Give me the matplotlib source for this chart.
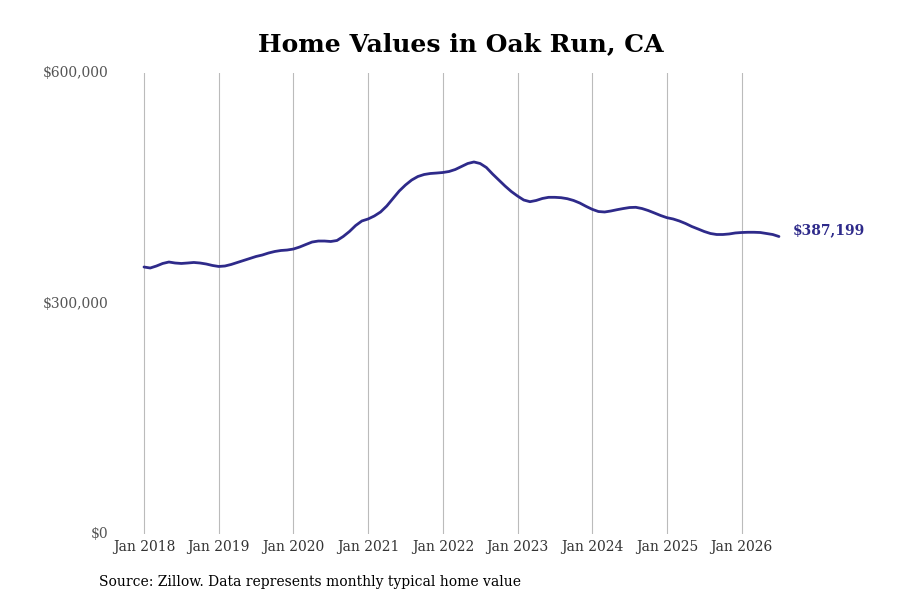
import matplotlib
matplotlib.use("Agg")
import matplotlib.pyplot as plt
import numpy as np

# Monthly typical home value, Jan 2018 .. Jul 2026
values = [
    347500, 346200, 348800, 352100, 354000, 352700, 352100, 352700, 353400, 352700, 351400, 349500,  # 2018
    348200, 348800, 350800, 353400, 356000, 358600, 361200, 363100, 365700, 367700, 369000, 369600,  # 2019
    370900, 373500, 376800, 380000, 381300, 381300, 380700, 382000, 387200, 393700, 401500, 407400,  # 2020
    410000, 413900, 419100, 426900, 436700, 446400, 454200, 460700, 465300, 467900, 469200, 469800,  # 2021
    470500, 471800, 474400, 478300, 482200, 484200, 482200, 477000, 468500, 460700, 452900, 445800,  # 2022
    439900, 434700, 432500, 434100, 436700, 438200, 438200, 437700, 436400, 434100, 430800, 426500,  # 2023
    422600, 419700, 419100, 420400, 422100, 423600, 424900, 425200, 423600, 421000, 417800, 414500,  # 2024
    411700, 410000, 407400, 404100, 400200, 397000, 393700, 391100, 389800, 389800, 390500, 391800,  # 2025
    392400, 392700, 392700, 392400, 391100, 389800, 387199,                                          # 2026
]
tick_labels = ["Jan 2018", "Jan 2019", "Jan 2020", "Jan 2021", "Jan 2022",
               "Jan 2023", "Jan 2024", "Jan 2025", "Jan 2026"]
y_ticks = [0, 300000, 600000]
y_tick_labels = ["$0", "$300,000", "$600,000"]
title = "Home Values in Oak Run, CA"
source = "Source: Zillow. Data represents monthly typical home value"
end_label = "$387,199"

line_color = "#2e2a8a"

plt.rcParams['font.family'] = ['DejaVu Serif']

fig = plt.figure(figsize=(9, 6), dpi=100)
ax = fig.add_axes([115/900, 66/600, 765/900, 461/600])

months = np.arange(len(values))
ax.plot(months, values, color=line_color, linewidth=2.0, solid_capstyle='round')

px_per_month = 74.7 / 12
ax.set_xlim(-(144 - 115) / px_per_month, (880 - 144) / px_per_month)
ax.set_ylim(0, 600000)

ax.set_xticks(np.arange(0, 12 * len(tick_labels), 12))
ax.set_xticklabels(tick_labels, fontsize=10, color="#333333")
ax.set_yticks(y_ticks)
ax.set_yticklabels(y_tick_labels, fontsize=10, color="#555555")
ax.tick_params(axis='both', length=0)
ax.tick_params(axis='x', pad=4)
ax.tick_params(axis='y', pad=5)
for lab in ax.get_yticklabels():
    lab.set_verticalalignment('center')

ax.grid(axis='x', color="#bbbbbb", linewidth=0.8)
ax.grid(axis='y', visible=False)
for s in ax.spines.values():
    s.set_visible(False)

ax.annotate(end_label, xy=(months[-1], values[-1]), xytext=(10, 4.5),
            textcoords='offset points', fontsize=10, fontweight='bold',
            color=line_color, va='center', ha='left')

fig.text(461/900, 1 - 44/600, title, fontsize=18, fontweight='bold',
         ha='center', va='center', color='black')
fig.text(99/900, 1 - 582/600, source, fontsize=10, ha='left', va='center', color='black')

fig.savefig("out.png", dpi=100)
